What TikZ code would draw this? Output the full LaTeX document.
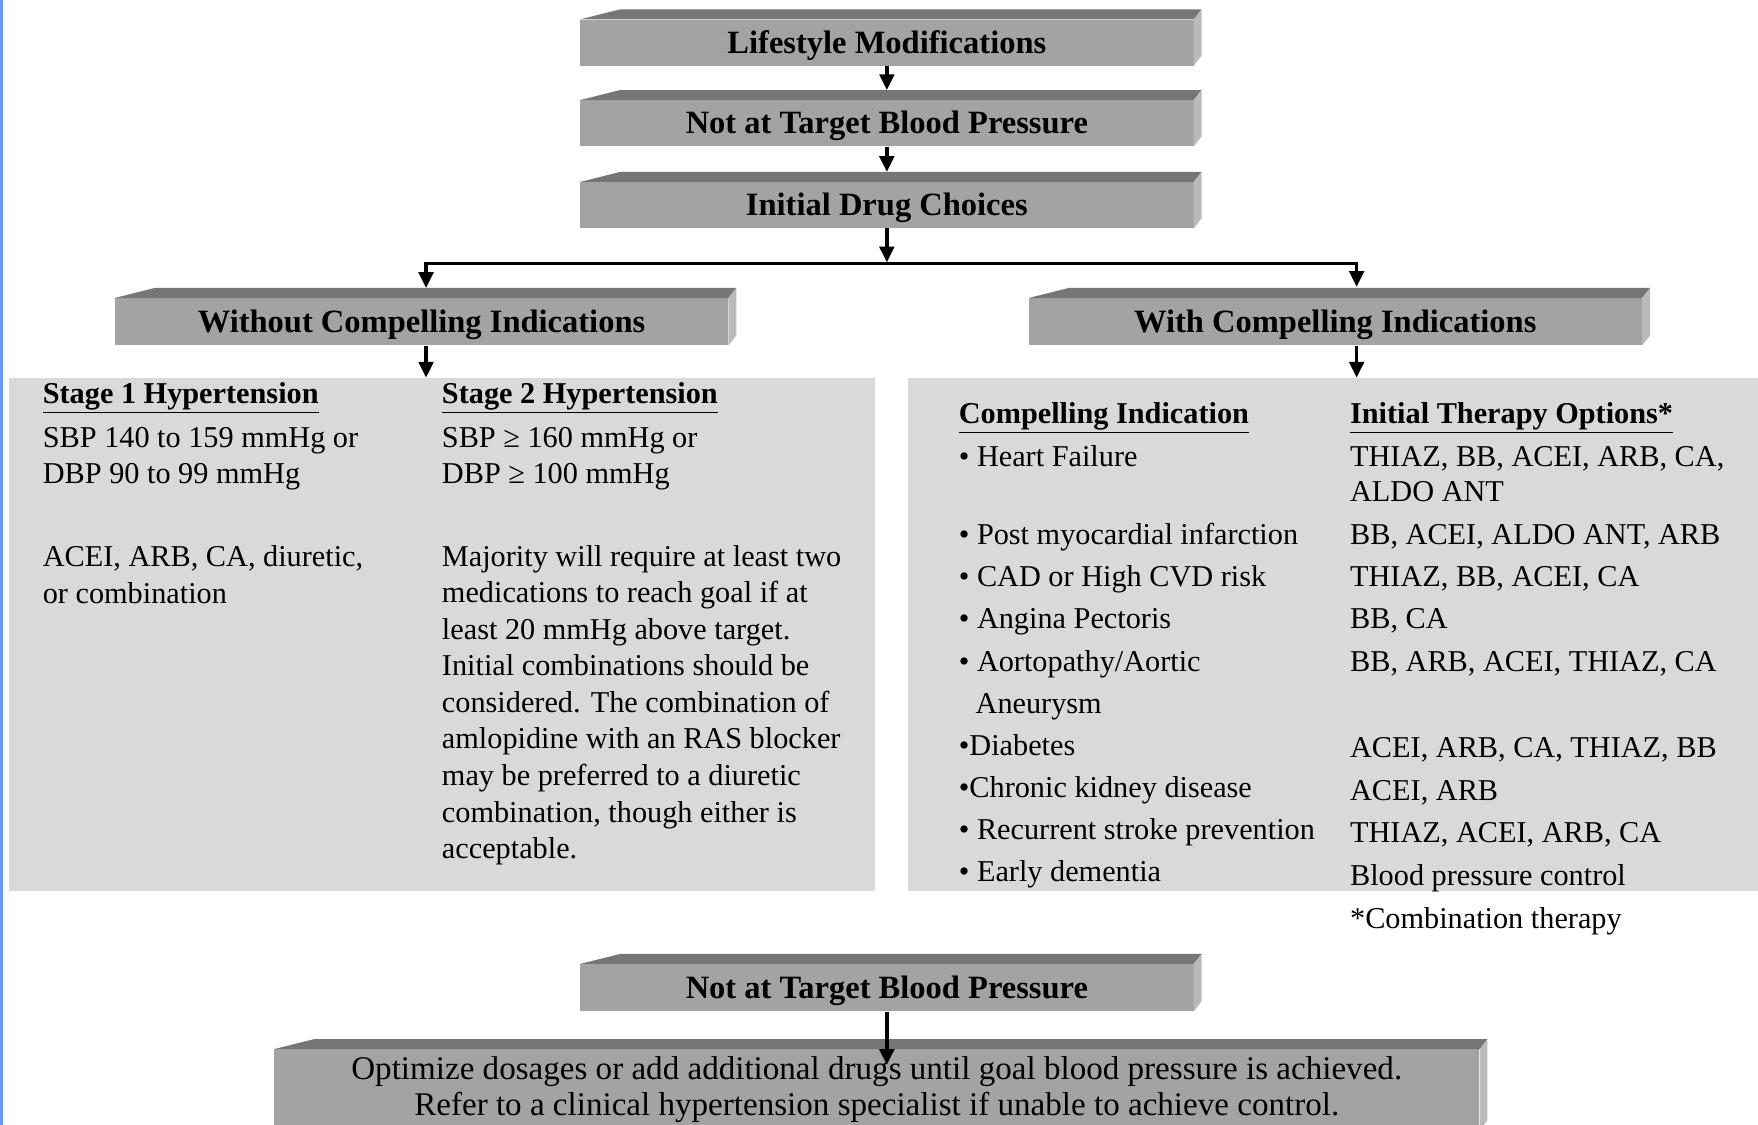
\documentclass[tikz,border=0pt]{standalone}
\usepackage{fontspec}
\setmainfont{Liberation Serif}
\usepackage{tikz}
\usetikzlibrary{arrows.meta,positioning,calc}
\definecolor{boxfront}{RGB}{163,163,163}
\definecolor{boxtop}{RGB}{118,118,118}
\definecolor{boxside}{RGB}{186,186,186}
\definecolor{panelgray}{RGB}{217,217,217}
\definecolor{edgeblue}{RGB}{104,150,255}

\begin{document}
\begin{tikzpicture}[
  x=1pt, y=-1pt,
  stepbox/.style={fill=boxfront, minimum width=547pt, minimum height=41pt, inner sep=0pt,
                  text height=21pt, text depth=2pt, font=\bfseries\fontsize{29}{34}\selectfont},
  panel/.style={fill=panelgray, inner sep=0pt, minimum height=458pt},
  txt/.style={anchor=base west, inner sep=0pt, font=\fontsize{27}{33}\selectfont},
  hd/.style={txt, font=\bfseries\fontsize{27}{33}\selectfont},
  arr/.style={line width=3pt, -{Triangle[length=14pt,width=13pt]}}
]
  \useasboundingbox (0,0) rectangle (1568,1003);
  \clip (0,0) rectangle (1568,1003);
  \fill[white] (0,0) rectangle (1568,1003);
  \fill[edgeblue] (0,0) rectangle (3,1003);

  % grey panels
  \node[panel, minimum width=772pt] (lp) at (394,566) {};
  \node[panel, minimum width=760pt] (rp) at (1190,566) {};

  % 3d boxes
  \node[stepbox] (lm) at (791,38) {Lifestyle Modifications};
  \node[stepbox] (nt) at (791,110) {Not at Target Blood Pressure};
  \node[stepbox] (idc) at (791,183) {Initial Drug Choices};
  \node[stepbox, minimum height=42pt] (wo) at (376,287) {Without Compelling Indications};
  \node[stepbox, minimum height=42pt] (wi) at (1191,287) {With Compelling Indications};
  \node[stepbox, minimum height=42pt] (nt2) at (791,881) {Not at Target Blood Pressure};
  \node[stepbox, minimum width=1075pt, minimum height=72pt, align=center,
        text height=, text depth=, font=\fontsize{29.5}{32}\selectfont] (opt) at (782,972)
    {Optimize dosages or add additional drugs until goal blood pressure is achieved.\\
     Refer to a clinical hypertension specialist if unable to achieve control.};
  \foreach \b in {lm,nt,idc,wo,wi,nt2,opt} {
    \fill[boxtop] (\b.north west) -- ++(36,-9) -- ($(\b.north east)+(7,-9)$) -- (\b.north east) -- cycle;
    \fill[boxside] (\b.north east) -- ++(7,-9) -- ($(\b.south east)+(7,-9)$) -- (\b.south east) -- cycle;
  }
  \fill[boxfront] (opt.south west) rectangle ($(opt.south east)+(0,20)$);
  \fill[boxside] (opt.south east) rectangle ($(opt.south east)+(7,20)$);

  % arrows
  \draw[arr] (lm.south) -- ($(nt.north)+(0,-9)$);
  \draw[arr] (nt.south) -- ($(idc.north)+(0,-9)$);
  \coordinate (split) at (791,235);
  \draw[arr] (idc.south) -- ($(split)+(0,-1)$);
  \draw[arr] (split) -| ($(wo.north)+(4,-9)$);
  \draw[arr] (split) -| ($(wi.north)+(19,-10)$);
  \coordinate (woa) at ($(wo.south)+(4,0)$);
  \coordinate (wia) at ($(wi.south)+(19,0)$);
  \draw[arr] (woa) -- (woa |- lp.north);
  \draw[arr] (wia) -- (wia |- rp.north);
  \draw[arr] (nt2.south) -- ($(opt.north)+(9,14)$);

  % without compelling indications
  \node[hd] (s1h) at (38,360) {\underline{Stage 1 Hypertension}};
  \node[txt] (s1a) at (38,399) {SBP 140 to 159 mmHg or};
  \node[txt] (s1b) at (38,431) {DBP 90 to 99 mmHg};
  \node[txt] (s1c) at (38,505) {ACEI, ARB, CA, diuretic,};
  \node[txt] (s1d) at (38,538) {or combination};
  \node[hd] (s2h) at (394,360) {\underline{Stage 2 Hypertension}};
  \node[txt] (s2a) at (394,399) {SBP ≥ 160 mmHg or};
  \node[txt] (s2b) at (394,431) {DBP ≥ 100 mmHg};
  \foreach \ln [count=\i from 0] in {Majority will require at least two,
      medications to reach goal if at, least 20 mmHg above target.,
      Initial combinations should be, {considered. The combination of},
      amlopidine with an RAS blocker, may be preferred to a diuretic,
      {combination, though either is}, acceptable.}
    \node[txt] (p\i) at (394,{505+32.6*\i}) {\ln};

  % with compelling indications
  \node[hd] (cih) at (855,378) {\underline{Compelling Indication}};
  \node[hd] (ith) at (1204,378) {\underline{Initial Therapy Options*}};
  \node[txt] (c1) at (855,416) {• Heart Failure};
  \node[txt] (c2) at (855,486) {• Post myocardial infarction};
  \node[txt] (c3) at (855,523) {• CAD or High CVD risk};
  \node[txt] (c4) at (855,561) {• Angina Pectoris};
  \node[txt] (c5) at (855,599) {• Aortopathy/Aortic};
  \node[txt] (c5b) at (870,636) {Aneurysm};
  \node[txt] (c6) at (855,674) {•Diabetes};
  \node[txt] (c7) at (855,711) {•Chronic kidney disease};
  \node[txt] (c8) at (855,749) {• Recurrent stroke prevention};
  \node[txt] (c9) at (855,786) {• Early dementia};
  \node[txt] (t1) at (1204,416) {THIAZ, BB, ACEI, ARB, CA,};
  \node[txt] (t1b) at (1204,447) {ALDO ANT};
  \node[txt] (t2) at (1204,486) {BB, ACEI, ALDO ANT, ARB};
  \node[txt] (t3) at (1204,523) {THIAZ, BB, ACEI, CA};
  \node[txt] (t4) at (1204,561) {BB, CA};
  \node[txt] (t5) at (1204,599) {BB, ARB, ACEI, THIAZ, CA};
  \node[txt] (t6) at (1204,676) {ACEI, ARB, CA, THIAZ, BB};
  \node[txt] (t7) at (1204,714) {ACEI, ARB};
  \node[txt] (t8) at (1204,751) {THIAZ, ACEI, ARB, CA};
  \node[txt] (t9) at (1204,790) {Blood pressure control};
  \node[txt] (fn) at (1204,828) {*Combination therapy};
\end{tikzpicture}
\end{document}
